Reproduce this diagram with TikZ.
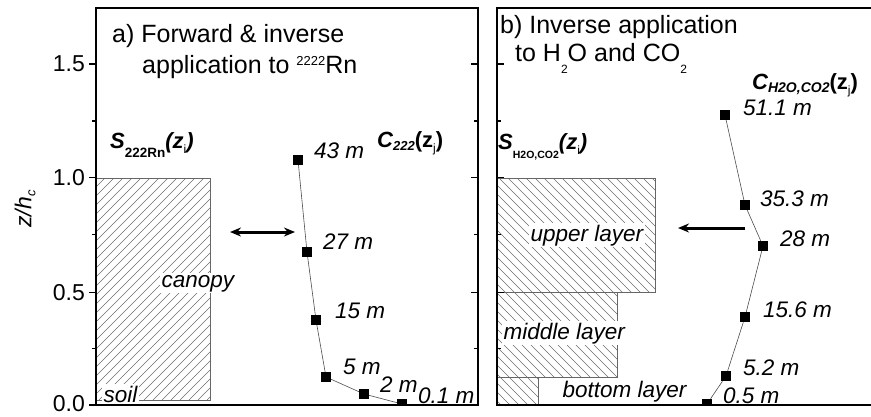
\documentclass[tikz,border=0pt]{standalone}
\usepackage{fontspec}
\setmainfont{Liberation Sans}
\usetikzlibrary{arrows.meta}
\newcommand{\mysub}[3]{\raisebox{-#1}{\fontsize{#2}{#2}\selectfont #3}}
\begin{document}
\begin{tikzpicture}[x=1pt,y=-1pt,
  ax/.style={line width=1.3pt, line cap=rect},
  hatch/.style={draw=gray!85!black, line width=0.5pt},
  lyr/.style={draw=gray!80!black, line width=0.7pt},
  mk/.style={fill=black, minimum size=10pt, inner sep=0pt, draw=none},
  conn/.style={draw=gray!60!black, line width=0.6pt},
  ptlab/.style={font=\fontsize{22.5}{22.5}\selectfont\itshape, inner sep=0pt, anchor=base west},
  ttl/.style={font=\fontsize{25}{30}\selectfont, inner sep=0pt, anchor=base west},
  ticklab/.style={font=\fontsize{23}{23}\selectfont, inner sep=0pt, anchor=east},
  wlab/.style={font=\fontsize{22.5}{22.5}\selectfont\itshape, fill=white, inner sep=1.5pt, anchor=base west},
  biglab/.style={font=\fontsize{22}{22}\selectfont\bfseries, inner sep=0pt, anchor=base west},
  thickarrow/.style={line width=3pt, {Stealth[length=11pt,width=9pt]}-{Stealth[length=11pt,width=9pt]}},
  onearrow/.style={line width=3pt, -{Stealth[length=11pt,width=9pt]}},
]
\useasboundingbox (0,0) rectangle (871,416);

% ---------- panel a: hatched source region ----------
\begin{scope}
  \clip (96,178) rectangle (210,400);
  \foreach \i in {-135,-126,...,215} \draw[hatch] (\i,400) -- ++(250,-250);
\end{scope}
\draw[lyr] (96,178) -- (210,178) -- (210,400) -- (96,400);

% ---------- panel b: hatched layers ----------
\begin{scope}
  \clip (497,178) rectangle (655,292) (497,292) rectangle (617,377) (497,377) rectangle (538,405);
  \foreach \i in {265,274,...,660} \draw[hatch] (\i,178) -- ++(250,250);
\end{scope}
\draw[lyr] (497,178) -- (655,178) -- (655,292) -- (497,292);
\draw[lyr] (617,292) -- (617,377) -- (497,377);
\draw[lyr] (538,377) -- (538,405);

% ---------- labels with white background ----------
\node[wlab] (canopy) at (160,287) {canopy};
\node[wlab] (soil) at (102,402) {soil};
\node[wlab] (upper) at (529,241) {upper layer};
\node[wlab] (middle) at (502,339) {middle layer};
\node[wlab, fill=none] (bottom) at (561,397) {bottom layer};

% ---------- axes ----------
\draw[ax] (96,8) rectangle (478,405);
\draw[ax] (880,8) -- (497,8) -- (497,405) -- (880,405);
\foreach \y in {405,292.35,177.7,64} {
  \draw[ax, line cap=butt] (89,\y) -- (96,\y);
  \draw[ax, line cap=butt] (471,\y) -- (478,\y);
  \draw[ax, line cap=butt] (497,\y) -- (504,\y);
}
\foreach \y in {348.2,234.5,120.9} {
  \draw[ax, line cap=butt] (92,\y) -- (96,\y);
  \draw[ax, line cap=butt] (474,\y) -- (478,\y);
  \draw[ax, line cap=butt] (497,\y) -- (501,\y);
}
\node[ticklab] (t15) at (85,64) {1.5};
\node[ticklab] (t10) at (85,177.7) {1.0};
\node[ticklab] (t05) at (85,292.35) {0.5};
\node[ticklab] (t00) at (85,404) {0.0};
\node[rotate=90, font=\fontsize{23}{23}\selectfont\itshape, inner sep=0pt] (ylab) at (25,209) {z/h\mysub{4pt}{13}{c}};

% ---------- titles ----------
\node[ttl] (ta1) at (112,42) {a) Forward \& inverse};
\node[ttl] (ta2) at (142,73) {application to \raisebox{8pt}{\fontsize{13}{13}\selectfont 2222}Rn};
\node[ttl] (tb1) at (500,33) {b) Inverse application};
\node[ttl] (tb2) at (515,61) {to H\mysub{12pt}{12}{2}O and CO\mysub{12pt}{12}{2}};

% ---------- bold quantity labels ----------
\node[biglab] (Sa) at (110,148) {\itshape S\mysub{9pt}{13.5}{\upshape 222Rn}(z\mysub{5pt}{12}{\mdseries\upshape i})};
\node[biglab] (Ca) at (377,147) {\itshape C\mysub{3pt}{13}{222}\upshape(z\mysub{5pt}{12}{\mdseries j})};
\node[biglab] (Sb) at (498,149) {\itshape S\mysub{9pt}{10.5}{\upshape H2O,CO2}(z\mysub{5pt}{12}{\mdseries\upshape i})};
\node[biglab] (Cb) at (752,89) {\itshape C\mysub{3pt}{14}{H2O,CO2}\upshape(z\mysub{5pt}{12}{\mdseries j})};

% ---------- markers ----------
\begin{scope}
  \clip (96,8) rectangle (478,405);
  \node[mk] (a1) at (298,160) {};
  \node[mk] (a2) at (307,252) {};
  \node[mk] (a3) at (316,320) {};
  \node[mk] (a4) at (326,377) {};
  \node[mk] (a5) at (364,394) {};
  \node[mk] (a6) at (402,404) {};
\end{scope}
\begin{scope}
  \clip (497,8) rectangle (871,405);
  \node[mk] (b1) at (725,115) {};
  \node[mk] (b2) at (745,205) {};
  \node[mk] (b3) at (763,246) {};
  \node[mk] (b4) at (745,317) {};
  \node[mk] (b5) at (726,376) {};
  \node[mk] (b6) at (707,404) {};
\end{scope}
\draw[conn] (a1) -- (a2) -- (a3) -- (a4) -- (a5) -- (a6);
\draw[conn] (b1) -- (b2) -- (b3) -- (b4) -- (b5) -- (b6);

% ---------- point labels ----------
\node[ptlab] (la1) at (314,158) {43 m};
\node[ptlab] (la2) at (323,249) {27 m};
\node[ptlab] (la3) at (335,318) {15 m};
\node[ptlab] (la4) at (343,374) {5 m};
\node[ptlab] (la5) at (380,392) {2 m};
\node[ptlab] (la6) at (418,403) {0.1 m};
\node[ptlab] (lb1) at (743,115) {51.1 m};
\node[ptlab] (lb2) at (760,206) {35.3 m};
\node[ptlab] (lb3) at (780,246) {28 m};
\node[ptlab] (lb4) at (763,317) {15.6 m};
\node[ptlab] (lb5) at (743,375) {5.2 m};
\node[ptlab] (lb6) at (723,403) {0.5 m};

% ---------- arrows ----------
\coordinate (arA1) at (230,232);
\coordinate (arA2) at (295,232);
\draw[thickarrow] (arA1) -- (arA2);
\coordinate (arB1) at (745,228);
\coordinate (arB2) at (678,228);
\draw[onearrow] (arB1) -- (arB2);
\end{tikzpicture}
\end{document}
